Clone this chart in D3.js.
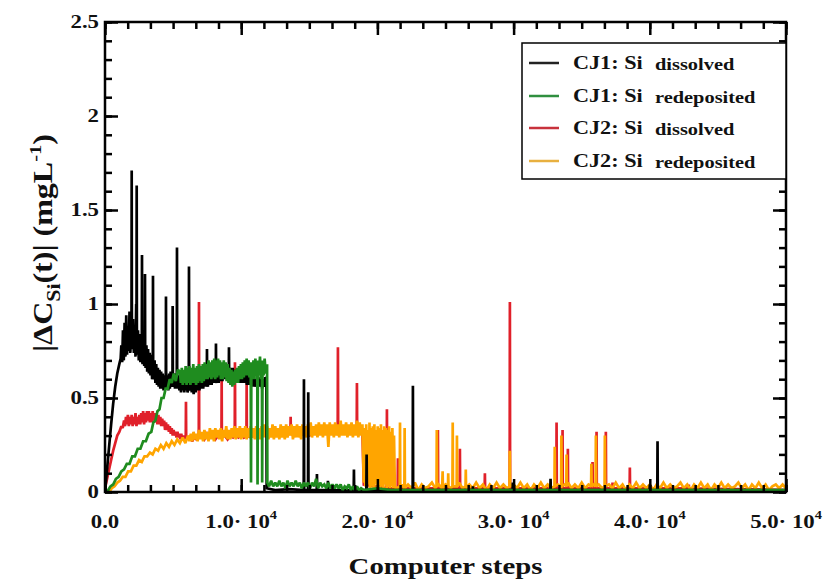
<!DOCTYPE html>
<html><head><meta charset="utf-8">
<script src="https://cdn.jsdelivr.net/npm/d3@7"></script>
<style>
body{margin:0;background:#fff}
text{font-family:"Liberation Serif","Times New Roman",serif;font-weight:bold;fill:#111}
</style>
</head><body>
<svg id="chart" width="827" height="579"></svg>
<script>
// ---------------- DATA (steps, |dC_Si| in mg/L) ----------------
const seriesNames = ["CJ1: Si", "CJ1: Si", "CJ2: Si", "CJ2: Si"];
const seriesSubs = ["dissolved", "redeposited", "dissolved", "redeposited"];
const xTickValues = [0, 10000, 20000, 30000, 40000, 50000];
const xTickLabels = ["0.0", "1.0", "2.0", "3.0", "4.0", "5.0"];
const yTickValues = [0, 0.5, 1, 1.5, 2, 2.5];
const yTickLabels = ["0", "0.5", "1", "1.5", "2", "2.5"];

const cj1Dissolved = [
[0,0],[150,0.12],[300,0.24],[450,0.36],[600,0.47],[750,0.56],[900,0.63],[1050,0.68],[1150,0.71],
[1200,0.78],[1260,0.69],[1320,0.86],[1380,0.7],[1440,0.9],[1500,0.72],[1560,0.94],[1620,0.73],[1680,0.88],[1740,0.75],[1800,0.96],[1860,0.74],[1920,0.9],[1945,0.8],[1960,1.71],[1975,0.8],[2000,0.76],[2060,0.92],[2120,0.74],[2180,0.88],[2240,0.72],[2290,1.0],[2312,0.8],[2327,1.63],[2342,0.8],[2360,0.73],[2420,0.86],[2480,0.7],[2540,0.84],[2600,0.69],[2660,0.83],[2700,0.7],[2716,1.26],[2730,0.7],[2760,0.68],[2820,0.8],[2880,0.67],[2920,0.7],[2936,1.16],[2950,0.7],[2980,0.66],[3040,0.78],[3100,0.64],[3160,0.76],[3220,0.63],[3280,0.74],[3340,0.62],[3400,0.73],[3460,0.6],[3508,0.62],[3523,1.15],[3538,0.62],[3580,0.6],[3640,0.7],[3700,0.58],[3760,0.68],[3820,0.57],[3880,0.66],[3940,0.56],[4000,0.65],[4060,0.55],[4120,0.64],[4180,0.55],[4240,0.63],[4300,0.54],[4360,0.62],[4420,0.55],[4462,0.58],[4477,1.04],[4492,0.58],[4530,0.55],[4590,0.62],[4650,0.54],[4710,0.63],[4760,0.55],[4820,0.64],[4880,0.56],[4954,0.58],[4969,0.99],[4984,0.58],[5020,0.56],[5080,0.63],[5140,0.55],[5200,0.62],[5270,0.58],[5285,1.3],[5300,0.58],[5340,0.55],[5400,0.62],[5460,0.54],[5520,0.6],[5580,0.53],[5640,0.61],[5700,0.54],[5760,0.6],[5820,0.53],[5880,0.61],[5940,0.54],[6000,0.6],[6060,0.53],[6150,0.56],[6166,1.2],[6182,0.56],[6230,0.54],[6300,0.6],[6370,0.53],[6440,0.59],[6510,0.52],[6580,0.6],[6650,0.53],[6720,0.6],[6790,0.54],[6860,0.61],[6930,0.54],[7000,0.6],[7070,0.55],[7140,0.61],[7210,0.55],[7280,0.62],[7350,0.56],[7420,0.62],[7472,0.58],[7487,0.76],[7502,0.58],[7550,0.56],[7620,0.63],[7690,0.57],[7760,0.64],[7830,0.57],[7900,0.64],[7970,0.58],[8040,0.65],[8100,0.58],[8132,0.6],[8147,0.79],[8162,0.6],[8200,0.58],[8270,0.65],[8340,0.58],[8410,0.66],[8480,0.59],[8550,0.66],[8620,0.59],[8690,0.66],[8760,0.6],[8830,0.66],[8900,0.6],[8970,0.67],[9040,0.6],[9087,0.62],[9102,0.77],[9117,0.62],[9160,0.6],[9230,0.66],[9300,0.6],[9370,0.66],[9440,0.59],[9510,0.65],[9580,0.59],[9650,0.65],[9720,0.59],[9790,0.65],[9860,0.58],[9930,0.65],[10000,0.58],[10070,0.64],[10140,0.58],[10210,0.64],[10280,0.58],[10350,0.63],[10420,0.57],[10490,0.63],[10560,0.57],[10630,0.63],[10700,0.57],[10770,0.62],[10840,0.56],[10910,0.62],[10980,0.56],[11050,0.6],[11120,0.57],[11190,0.62],[11260,0.56],[11330,0.61],[11400,0.56],[11470,0.6],[11540,0.55],[11610,0.6],[11680,0.56],[11750,0.61],[11850,0.6],[11870,0.02],[12500,0.01],[13500,0.015],[14590,0.01],
[14607,0.6],[14625,0.01],[14905,0.01],[14922,0.53],[14940,0.01],[15545,0.01],[15561,0.095],[15580,0.01],[16350,0.01],[16368,0.06],[16385,0.01],[18260,0.01],[18277,0.12],[18295,0.01],[19190,0.01],[19209,0.2],[19228,0.01],[22590,0.01],[22607,0.565],[22625,0.01],[26995,0.01],[27011,0.03],[27028,0.01],[29930,0.01],[29947,0.05],[29965,0.01],[32697,0.01],[32714,0.07],[32730,0.01],[39986,0.01],[40003,0.04],[40020,0.01],[40551,0.01],[40568,0.27],[40585,0.01],[50000,0.01]
];

const cj1Redeposited = [
[150,0],[400,0.03],[600,0.04],[800,0.07],[1000,0.08],[1200,0.11],[1400,0.12],[1600,0.15],[1800,0.15],[2000,0.19],[2200,0.19],[2400,0.23],[2600,0.23],[2800,0.27],[3000,0.27],[3200,0.31],[3400,0.32],[3550,0.37],[3700,0.38],[3850,0.43],[4000,0.44],[4150,0.5],[4300,0.5],[4450,0.55],[4600,0.55],[4750,0.6],[4900,0.58],[5050,0.63],[5200,0.59],[5350,0.65],
[5500,0.64],[5570,0.58],[5640,0.66],[5710,0.57],[5780,0.65],[5850,0.58],[5920,0.67],[5990,0.57],[6060,0.66],[6130,0.58],[6200,0.67],[6270,0.57],[6340,0.66],[6410,0.58],[6480,0.68],[6550,0.58],[6620,0.66],[6690,0.57],[6760,0.67],[6830,0.58],[6900,0.68],[6970,0.59],[7040,0.67],[7110,0.58],[7180,0.68],[7250,0.59],[7320,0.69],[7390,0.6],[7460,0.68],[7530,0.6],[7600,0.7],[7670,0.61],[7740,0.69],[7810,0.6],[7880,0.7],[7950,0.61],[8020,0.71],[8090,0.6],[8160,0.7],[8230,0.61],[8300,0.71],[8370,0.62],[8440,0.7],[8510,0.6],[8580,0.69],[8650,0.6],[8720,0.7],[8790,0.61],[8860,0.69],[8930,0.59],[9000,0.68],[9070,0.58],[9140,0.66],[9210,0.57],[9280,0.65],[9350,0.56],[9420,0.64],[9490,0.57],[9560,0.65],[9630,0.58],[9700,0.66],[9770,0.58],[9840,0.67],[9910,0.6],[9980,0.68],[10050,0.6],[10120,0.69],[10190,0.61],[10260,0.7],[10330,0.62],[10400,0.71],[10470,0.62],[10540,0.7],[10610,0.61],[10700,0.69],[10720,0.05],[10745,0.66],[10830,0.6],[10900,0.7],[10970,0.6],[11040,0.71],[11110,0.62],[11180,0.7],[11200,0.04],[11225,0.68],[11300,0.62],[11380,0.72],[11450,0.6],[11520,0.7],[11540,0.05],[11565,0.69],[11640,0.62],[11720,0.71],[11800,0.63],[11900,0.68],[11920,0.05],
[12050,0.03],[12200,0.06],[12350,0.03],[12500,0.05],[12650,0.03],[12800,0.06],[12950,0.03],[13100,0.05],[13250,0.02],[13400,0.06],[13550,0.03],[13700,0.05],[13850,0.03],[14000,0.06],[14150,0.03],[14300,0.05],[14450,0.02],[14600,0.05],[14750,0.03],[14900,0.05],[15050,0.02],[15200,0.05],[15350,0.03],[15500,0.07],[15650,0.02],[15800,0.05],[15950,0.03],[16100,0.04],[16250,0.02],[16400,0.05],[16550,0.02],[16700,0.04],[16850,0.02],[17000,0.04],[17150,0.02],[17300,0.04],[17450,0.01],[17600,0.03],[17750,0.02],[17900,0.04],[18050,0.01],[18200,0.03],[18350,0.01],[18500,0.03],[18650,0.01],[18800,0.02],[19000,0.01],[20000,0.02],[21000,0.01],[50000,0.01]
];

const cj2Dissolved = [
[0,0.02],[150,0.07],[300,0.12],[450,0.17],[600,0.22],[750,0.26],[900,0.3],[1050,0.32],[1200,0.35],[1300,0.34],[1400,0.38],[1470,0.35],[1540,0.4],[1610,0.36],[1680,0.41],[1750,0.35],[1820,0.4],[1890,0.36],[1960,0.41],[2030,0.35],[2100,0.4],[2170,0.36],[2240,0.42],[2310,0.35],[2380,0.4],[2450,0.36],[2520,0.41],[2590,0.36],[2660,0.42],[2730,0.37],[2800,0.43],[2870,0.36],[2940,0.42],[3010,0.37],[3080,0.43],[3150,0.38],[3220,0.43],[3290,0.37],[3360,0.42],[3430,0.37],[3500,0.43],[3570,0.38],[3640,0.42],[3710,0.37],[3780,0.42],[3850,0.36],[3920,0.41],[3990,0.36],[4060,0.4],[4130,0.35],[4200,0.39],[4270,0.35],[4340,0.38],[4410,0.33],[4480,0.37],[4550,0.33],[4620,0.36],[4690,0.32],[4760,0.35],[4830,0.31],[4900,0.34],[4970,0.3],[5040,0.33],[5110,0.3],[5180,0.32],[5250,0.29],[5320,0.32],[5390,0.29],[5460,0.31],[5530,0.28],[5600,0.31],[5670,0.28],[5740,0.3],[5820,0.28],[5930,0.3],[5945,0.48],[5960,0.3],[6100,0.28],[6250,0.3],[6400,0.27],[6550,0.29],[6700,0.28],[6885,0.29],[6900,1.01],[6915,0.29],
[7100,0.3],[7300,0.28],[7500,0.31],[7700,0.29],[7900,0.3],[8100,0.28],[8300,0.3],[8550,0.29],[8566,0.6],[8580,0.29],[8800,0.3],[9000,0.28],[9200,0.3],[9400,0.29],[9525,0.3],[9542,0.69],[9560,0.3],[9800,0.29],[10000,0.31],[10200,0.29],[10385,0.3],[10400,0.58],[10415,0.3],[10700,0.29],[11000,0.31],[11300,0.29],[11600,0.3],[12000,0.3],[12500,0.31],[13000,0.3],[13615,0.31],[13630,0.4],[13645,0.31],[14000,0.3],[14500,0.31],[15000,0.3],[15500,0.32],[16000,0.31],[16500,0.32],[17085,0.31],[17102,0.77],[17120,0.31],[17600,0.32],[18000,0.31],[18480,0.32],[18497,0.58],[18515,0.32],[18900,0.31],[19000,0.04],
[20680,0.02],[20699,0.44],[20720,0.02],[21490,0.02],[21506,0.18],[21525,0.02],[24425,0.02],[24442,0.33],[24460,0.02],[26040,0.02],[26057,0.23],[26075,0.02],[27875,0.02],[27892,0.1],[27910,0.02],[29710,0.02],[29727,1.01],[29745,0.02],[33140,0.02],[33155,0.37],[33170,0.02],[33580,0.02],[33595,0.33],[33610,0.02],[33970,0.02],[33984,0.23],[34000,0.02],[35780,0.02],[35797,0.16],[35815,0.02],[36075,0.02],[36091,0.32],[36108,0.02],[36757,0.02],[36773,0.32],[36790,0.02],[37250,0.02],[37265,0.05],[37280,0.02],[38520,0.02],[38535,0.13],[38550,0.02],[42850,0.02],[42866,0.04],[42880,0.02],[50000,0.01]
];

const cj2Redeposited = [
[300,0],[500,0.02],[700,0.03],[900,0.05],[1100,0.06],[1300,0.08],[1500,0.08],[1700,0.11],[1900,0.11],[2100,0.14],[2300,0.14],[2500,0.17],[2700,0.16],[2900,0.19],[3100,0.19],[3300,0.21],[3500,0.2],[3700,0.23],[3900,0.22],[4100,0.25],[4300,0.23],[4500,0.26],[4700,0.24],[4900,0.27],[5100,0.25],[5300,0.28],[5500,0.26],[5700,0.29],[5900,0.26],
[6100,0.3],[6200,0.27],[6300,0.31],[6400,0.27],[6500,0.32],[6600,0.28],[6700,0.31],[6800,0.27],[6900,0.33],[7000,0.28],[7100,0.32],[7200,0.27],[7300,0.33],[7400,0.28],[7500,0.32],[7600,0.27],[7700,0.34],[7800,0.28],[7900,0.33],[8000,0.27],[8100,0.34],[8200,0.29],[8300,0.33],[8400,0.28],[8500,0.34],[8600,0.27],[8700,0.33],[8800,0.29],[8900,0.35],[9000,0.28],[9100,0.33],[9200,0.28],[9300,0.34],[9400,0.29],[9500,0.35],[9600,0.28],[9700,0.34],[9800,0.29],[9900,0.35],[10000,0.28],[10100,0.34],[10200,0.29],[10300,0.35],[10400,0.28],[10500,0.34],[10600,0.29],[10700,0.35],[10800,0.29],[10900,0.34],[11000,0.28],[11100,0.35],[11200,0.29],[11300,0.34],[11400,0.28],[11500,0.35],[11600,0.29],[11700,0.36],[11800,0.29],[11900,0.35],[12000,0.28],[12100,0.34],[12200,0.29],[12300,0.36],[12400,0.28],[12500,0.35],[12600,0.29],[12700,0.34],[12800,0.28],[12900,0.36],[13000,0.29],[13100,0.35],[13200,0.28],[13300,0.36],[13400,0.29],[13500,0.35],[13600,0.3],[13700,0.36],[13800,0.28],[13900,0.35],[14000,0.29],[14100,0.36],[14200,0.29],[14300,0.35],[14400,0.28],[14500,0.36],[14600,0.3],[14700,0.35],[14800,0.29],[14900,0.36],[15000,0.3],[15100,0.37],[15200,0.29],[15300,0.35],[15400,0.3],[15500,0.36],[15600,0.29],[15700,0.37],[15800,0.3],[15900,0.36],[16000,0.29],[16100,0.37],[16200,0.3],[16300,0.36],[16400,0.24],[16500,0.37],[16600,0.3],[16700,0.36],[16800,0.29],[16900,0.37],[17000,0.3],[17100,0.36],[17200,0.29],[17300,0.38],[17400,0.3],[17500,0.36],[17600,0.3],[17700,0.37],[17800,0.29],[17900,0.36],[18000,0.3],[18100,0.37],[18200,0.29],[18300,0.36],[18400,0.3],[18500,0.38],[18600,0.29],[18700,0.37],[18800,0.3],[18900,0.36],
[19000,0.05],[19060,0.34],[19120,0.03],[19180,0.36],[19240,0.02],[19300,0.33],[19360,0.04],[19420,0.37],[19480,0.02],[19540,0.34],[19600,0.03],[19660,0.35],[19720,0.02],[19780,0.36],[19840,0.04],[19900,0.33],[19960,0.02],[20020,0.35],[20080,0.03],[20140,0.34],[20200,0.02],[20260,0.36],[20320,0.03],[20380,0.33],[20440,0.02],[20500,0.35],[20560,0.04],[20620,0.34],[20680,0.02],[20740,0.33],[20800,0.03],[20860,0.35],[20920,0.02],[20980,0.32],[21040,0.03],[21100,0.34],[21160,0.02],[21220,0.3],[21280,0.03],[21340,0.02],
[21400,0.02],[21640,0.03],[21660,0.37],[21680,0.02],[21800,0.04],[21980,0.02],[22000,0.34],[22020,0.02],[22250,0.04],[22500,0.02],[22750,0.05],[23000,0.01],[23250,0.04],[23500,0.02],[23750,0.03],[24000,0.05],[24250,0.02],[24340,0.03],[24360,0.33],[24380,0.03],[24500,0.04],[24750,0.02],[24790,0.11],[24810,0.02],[25000,0.04],[25180,0.03],[25200,0.1],[25220,0.03],[25400,0.02],[25510,0.03],[25530,0.37],[25550,0.03],[25820,0.03],[25840,0.3],[25860,0.03],[26000,0.05],[26250,0.02],[26470,0.03],[26490,0.12],[26510,0.02],[26750,0.04],[27000,0.02],[27250,0.05],[27500,0.02],[27750,0.04],[28000,0.01],[28250,0.04],[28500,0.02],[28750,0.05],[29000,0.02],[29250,0.04],[29500,0.02],[29700,0.03],[29720,0.22],[29740,0.03],[30000,0.04],[30250,0.02],[30500,0.05],[30750,0.02],[31000,0.04],[31250,0.01],[31500,0.04],[31750,0.02],[32000,0.05],[32250,0.02],[32500,0.04],[32750,0.02],[33000,0.03],[33020,0.24],[33040,0.03],[33250,0.04],[33490,0.03],[33510,0.3],[33530,0.03],[33750,0.04],[33870,0.03],[33890,0.2],[33910,0.03],[34000,0.05],[34250,0.02],[34500,0.04],[34750,0.02],[35000,0.05],[35250,0.02],[35500,0.04],[35690,0.03],[35710,0.15],[35730,0.03],[35900,0.04],[36020,0.03],[36040,0.3],[36060,0.03],[36250,0.04],[36500,0.02],[36680,0.03],[36700,0.3],[36720,0.03],[37000,0.04],[37250,0.02],[37500,0.05],[37750,0.02],[38000,0.04],[38250,0.01],[38500,0.04],[38750,0.02],[39000,0.05],[39250,0.02],[39500,0.04],[39750,0.02],[40000,0.04],[40250,0.01],[40500,0.04],[40750,0.02],[41000,0.05],[41250,0.02],[41500,0.04],[41750,0.02],[42000,0.03],[42250,0.05],[42500,0.02],[42750,0.04],[43000,0.01],[43250,0.04],[43500,0.02],[43750,0.05],[44000,0.02],[44250,0.04],[44500,0.01],[44750,0.04],[45000,0.02],[45250,0.05],[45500,0.02],[45750,0.04],[46000,0.02],[46250,0.03],[46500,0.05],[46750,0.02],[47000,0.04],[47250,0.01],[47500,0.04],[47750,0.02],[48000,0.05],[48250,0.02],[48500,0.04],[48750,0.01],[49000,0.03],[49250,0.04],[49500,0.02],[49750,0.04],[50000,0.02]
];

const seriesColors = ["#000000", "#1f8c1f", "#e0202a", "#ffa500"];
const legendColors = ["#222222", "#2f8f3f", "#c8323c", "#e8b040"];

// ---------------- CHART ----------------
const svg = d3.select("#chart");
const L = 105, R = 786, T = 22, B = 492;
const SX = 1.2; // horizontal glyph stretch of the original figure
const x = d3.scaleLinear().domain([0, 50000]).range([L, R]);
const y = d3.scaleLinear().domain([0, 2.5]).range([B, T]);

svg.append("defs").append("clipPath").attr("id", "clip")
  .append("rect").attr("x", L).attr("y", T).attr("width", R - L).attr("height", B - T);

const line = d3.line().x(d => x(d[0])).y(d => y(d[1]));
const plot = svg.append("g").attr("clip-path", "url(#clip)");
const allSeries = [cj1Dissolved, cj1Redeposited, cj2Dissolved, cj2Redeposited];
const drawOrder = [2, 3, 0, 1];
drawOrder.forEach(i => {
  plot.append("path").datum(allSeries[i])
    .attr("fill", "none").attr("stroke", seriesColors[i])
    .attr("stroke-width", 2.7).attr("stroke-linejoin", "miter").attr("stroke-miterlimit", 2)
    .attr("d", line);
});

// axes with inward ticks on four sides
const xMinor = d3.range(0, 50001, 10000 / 6);
const yMinor = d3.range(0, 2.51, 0.1);
function styleAxis(sel) {
  sel.select(".domain").remove();
  sel.selectAll(".tick line").attr("stroke", "#000").attr("stroke-width", 2.5);
}
svg.append("g").attr("transform", `translate(0,${B})`)
  .call(d3.axisBottom(x).tickValues(xMinor).tickSize(-7).tickFormat("")).call(styleAxis);
svg.append("g").attr("transform", `translate(0,${B})`)
  .call(d3.axisBottom(x).tickValues(xTickValues).tickSize(-13).tickFormat("")).call(styleAxis);
svg.append("g").attr("transform", `translate(0,${T})`)
  .call(d3.axisTop(x).tickValues(xMinor).tickSize(-7).tickFormat("")).call(styleAxis);
svg.append("g").attr("transform", `translate(0,${T})`)
  .call(d3.axisTop(x).tickValues(xTickValues).tickSize(-13).tickFormat("")).call(styleAxis);
svg.append("g").attr("transform", `translate(${L},0)`)
  .call(d3.axisLeft(y).tickValues(yMinor).tickSize(-7).tickFormat("")).call(styleAxis);
svg.append("g").attr("transform", `translate(${L},0)`)
  .call(d3.axisLeft(y).tickValues(yTickValues).tickSize(-13).tickFormat("")).call(styleAxis);
svg.append("g").attr("transform", `translate(${R},0)`)
  .call(d3.axisRight(y).tickValues(yMinor).tickSize(-7).tickFormat("")).call(styleAxis);
svg.append("g").attr("transform", `translate(${R},0)`)
  .call(d3.axisRight(y).tickValues(yTickValues).tickSize(-13).tickFormat("")).call(styleAxis);

svg.append("rect").attr("x", L).attr("y", T).attr("width", R - L).attr("height", B - T)
  .attr("fill", "none").attr("stroke", "#000").attr("stroke-width", 2.5);

// tick labels
function stretched(px, py) {
  return svg.append("g").attr("transform", `translate(${px},${py}) scale(${SX},1)`);
}
xTickValues.forEach((v, i) => {
  const t = stretched(x(v), 528).append("text").attr("text-anchor", "middle").attr("font-size", 19);
  if (v === 0) { t.text(xTickLabels[i]); return; }
  t.append("tspan").text(xTickLabels[i] + "\u00B7 10");
  t.append("tspan").attr("font-size", 12).attr("dy", -9).text("4");
});
yTickValues.forEach((v, i) => {
  stretched(99, y(v) + 6).append("text").attr("text-anchor", "end").attr("font-size", 19)
    .text(yTickLabels[i]);
});

// axis titles
stretched((L + R) / 2, 574).append("text").attr("text-anchor", "middle").attr("font-size", 24)
  .text("Computer steps");
const ylg = svg.append("g");
const yl = ylg.append("text").attr("text-anchor", "middle").attr("font-size", 25);
yl.append("tspan").text("|\u0394C");
yl.append("tspan").attr("font-size", 17).attr("dy", 7).text("Si");
yl.append("tspan").attr("dy", -7).text("(t)| (mgL");
yl.append("tspan").attr("font-size", 16).attr("dy", -10).text("-1");
yl.append("tspan").attr("dy", 10).text(")");
const natural = yl.node().getComputedTextLength();
const wanted = 218; // length of the label along the axis in the original
ylg.attr("transform", `translate(52,243) scale(1.1,${wanted / natural}) rotate(-90)`);

// legend
svg.append("rect").attr("x", 522).attr("y", 43).attr("width", R - 522).attr("height", 136)
  .attr("fill", "#fff").attr("stroke", "#000").attr("stroke-width", 1.5);
const rowY = [63, 96, 128, 161];
seriesNames.forEach((name, i) => {
  svg.append("line").attr("x1", 529).attr("x2", 559).attr("y1", rowY[i]).attr("y2", rowY[i])
    .attr("stroke", legendColors[i]).attr("stroke-width", 2.5);
  stretched(573, rowY[i] + 6).append("text").attr("font-size", 18.5).text(name);
  stretched(655, rowY[i] + 7).append("text").attr("font-size", 17).text(seriesSubs[i]);
});
</script>
</body></html>
